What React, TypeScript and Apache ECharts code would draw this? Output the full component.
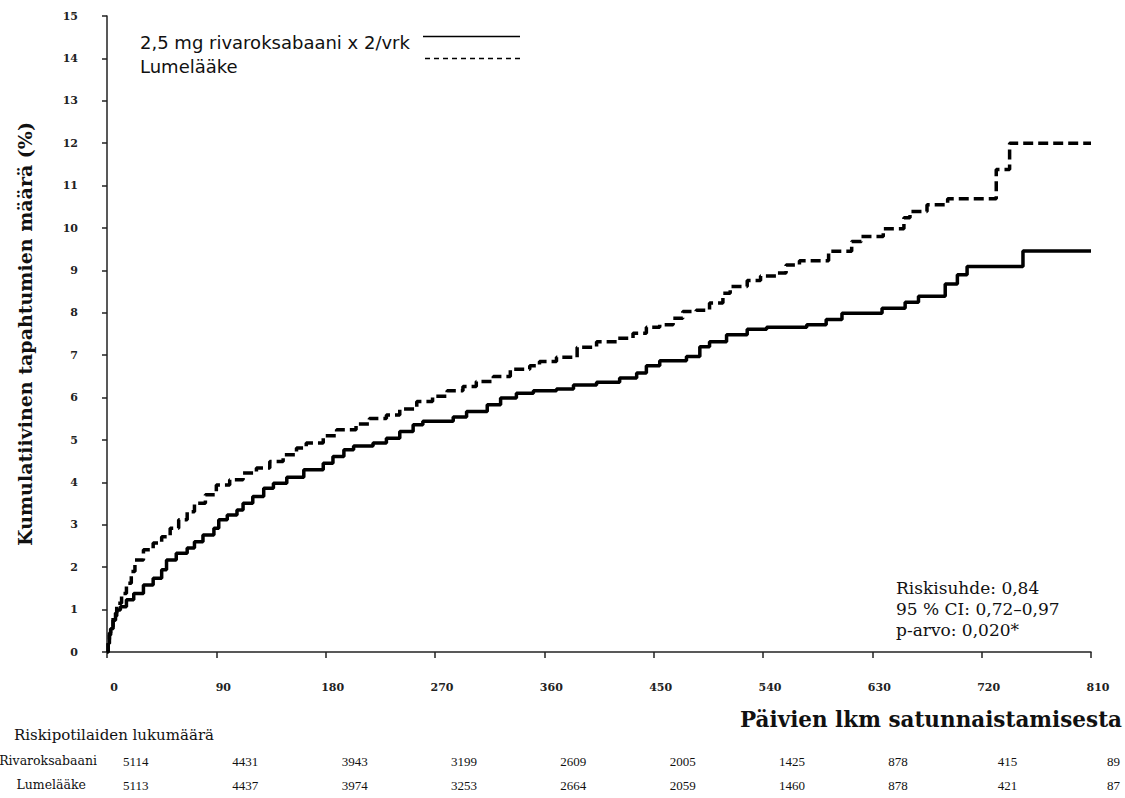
import React, { useEffect, useRef } from "react";
import * as echarts from "echarts";

const rivaroxabanDays = [0, 1, 2, 3, 5, 7, 8, 11, 16, 22, 30, 38, 45, 49, 57, 66, 72, 79, 88, 92, 99, 107, 112, 120, 129, 137, 148, 162, 178, 186, 195, 203, 219, 230, 241, 252, 260, 285, 296, 313, 324, 337, 351, 370, 384, 403, 422, 436, 444, 455, 477, 488, 496, 510, 527, 543, 576, 592, 605, 638, 657, 668, 690, 700, 708, 754, 810];
const rivaroxabanRisk = [0, 0.2, 0.4, 0.55, 0.75, 0.92, 0.99, 1.07, 1.23, 1.38, 1.58, 1.74, 1.94, 2.17, 2.33, 2.45, 2.6, 2.76, 2.92, 3.12, 3.23, 3.35, 3.51, 3.67, 3.86, 3.98, 4.12, 4.3, 4.45, 4.61, 4.77, 4.86, 4.93, 5.04, 5.2, 5.36, 5.44, 5.54, 5.67, 5.83, 5.99, 6.1, 6.16, 6.2, 6.3, 6.36, 6.46, 6.58, 6.75, 6.87, 6.97, 7.2, 7.32, 7.48, 7.61, 7.66, 7.72, 7.84, 7.99, 8.11, 8.25, 8.39, 8.68, 8.9, 9.09, 9.46, 9.46];

const placeboDays = [0, 1, 2, 3, 5, 8, 12, 16, 20, 23, 30, 38, 45, 52, 59, 66, 72, 81, 90, 101, 112, 123, 134, 145, 156, 164, 178, 189, 205, 216, 230, 241, 255, 268, 280, 293, 304, 318, 332, 348, 356, 370, 387, 403, 420, 433, 444, 455, 466, 474, 485, 496, 507, 513, 527, 538, 551, 559, 570, 594, 613, 621, 639, 656, 661, 675, 692, 732, 743, 810];
const placeboRisk = [0, 0.25, 0.45, 0.6, 0.85, 1.15, 1.38, 1.62, 1.9, 2.17, 2.41, 2.57, 2.72, 2.92, 3.12, 3.31, 3.51, 3.71, 3.94, 4.06, 4.22, 4.34, 4.49, 4.65, 4.81, 4.93, 5.1, 5.24, 5.38, 5.51, 5.59, 5.73, 5.91, 6.03, 6.16, 6.26, 6.38, 6.5, 6.67, 6.75, 6.85, 6.95, 7.19, 7.32, 7.4, 7.52, 7.66, 7.72, 7.87, 8.03, 8.06, 8.23, 8.46, 8.62, 8.76, 8.87, 8.94, 9.13, 9.23, 9.45, 9.68, 9.8, 9.98, 10.24, 10.39, 10.55, 10.69, 11.38, 12.0, 12.0];

const tickDays = [0, 90, 180, 270, 360, 450, 540, 630, 720, 810];
const atRiskRivaroxaban = [5114, 4431, 3943, 3199, 2609, 2005, 1425, 878, 415, 89];
const atRiskPlacebo = [5113, 4437, 3974, 3253, 2664, 2059, 1460, 878, 421, 87];

const seriesNames = ["2,5 mg rivaroksabaani x 2/vrk", "Lumelääke"];
const statsLines = ["Riskisuhde: 0,84", "95 % CI: 0,72–0,97", "p-arvo: 0,020*"];
const yAxisTitle = "Kumulatiivinen tapahtumien määrä (%)";
const xAxisTitle = "Päivien lkm satunnaistamisesta";
const atRiskTitle = "Riskipotilaiden lukumäärä";
const atRiskRowLabels = ["Rivaroksabaani", "Lumelääke"];

const SERIF = "'Liberation Serif', serif";
const WSERIF = "'DejaVu Serif', serif";
const SANS = "'DejaVu Sans', sans-serif";

function countAt(arr: number[], v: number) {
  const i = tickDays.indexOf(Math.round(v));
  return i >= 0 ? String(arr[i]) : "";
}

export default function App() {
  const ref = useRef<HTMLDivElement>(null);
  useEffect(() => {
    if (!ref.current) return;
    const chart = echarts.init(ref.current, null, { renderer: "svg" });
    const riskAxis = (arr: number[], offset: number) => ({
      type: "value",
      position: "bottom",
      min: 0,
      max: 810,
      interval: 90,
      offset,
      axisLine: { show: false },
      axisTick: { show: false },
      splitLine: { show: false },
      axisLabel: {
        margin: 8,
        align: "left",
        padding: [0, 0, 0, 16],
        fontFamily: SERIF,
        fontSize: 13,
        color: "#111",
        showMinLabel: true,
        showMaxLabel: true,
        formatter: (v: number) => countAt(arr, v),
      },
    });
    chart.setOption({
      animation: false,
      backgroundColor: "#fff",
      grid: { left: 107, right: 34, top: 16, bottom: 146, containLabel: false },
      xAxis: [
        {
          type: "value",
          min: 0,
          max: 810,
          interval: 90,
          axisLine: { show: true, lineStyle: { color: "#222", width: 1.5 } },
          axisTick: { show: true, length: 6, lineStyle: { color: "#222", width: 1.5 } },
          splitLine: { show: false },
          axisLabel: {
            margin: 30,
            padding: [0, 0, 0, 14],
            fontFamily: WSERIF,
            fontWeight: "bold",
            fontSize: 11,
            color: "#222",
            showMinLabel: true,
            showMaxLabel: true,
          },
        },
        riskAxis(atRiskRivaroxaban, 95),
        riskAxis(atRiskPlacebo, 119),
      ],
      yAxis: {
        type: "value",
        min: 0,
        max: 15,
        interval: 1,
        name: yAxisTitle,
        nameLocation: "middle",
        nameGap: 73,
        nameTextStyle: { fontFamily: WSERIF, fontWeight: "bold", fontSize: 19, color: "#111" },
        axisLine: { show: true, lineStyle: { color: "#222", width: 1.5 } },
        axisTick: { show: true, length: 5, lineStyle: { color: "#222", width: 1.5 } },
        splitLine: { show: false },
        axisLabel: {
          margin: 29,
          fontFamily: WSERIF,
          fontWeight: "bold",
          fontSize: 11,
          color: "#222",
        },
      },
      series: [
        {
          name: seriesNames[0],
          type: "line",
          step: "end",
          showSymbol: false,
          symbol: "none",
          data: rivaroxabanDays.map((d, i) => [d, rivaroxabanRisk[i]]),
          lineStyle: { color: "#000", width: 3.5, type: "solid" },
        },
        {
          name: seriesNames[1],
          type: "line",
          step: "end",
          showSymbol: false,
          symbol: "none",
          data: placeboDays.map((d, i) => [d, placeboRisk[i]]),
          lineStyle: { color: "#000", width: 3.5, type: [10, 5] },
        },
      ],
      graphic: [
        {
          type: "text",
          x: 140,
          y: 42,
          style: { text: seriesNames[0], font: `18px ${SANS}`, fill: "#111", verticalAlign: "middle" },
        },
        {
          type: "text",
          x: 140,
          y: 66,
          style: { text: seriesNames[1], font: `18px ${SANS}`, fill: "#111", verticalAlign: "middle" },
        },
        {
          type: "line",
          shape: { x1: 423, y1: 36.5, x2: 520, y2: 36.5 },
          style: { stroke: "#000", lineWidth: 1.5 },
        },
        {
          type: "line",
          shape: { x1: 425, y1: 58.5, x2: 520, y2: 58.5 },
          style: { stroke: "#000", lineWidth: 1.5, lineDash: [5, 4] },
        },
        ...statsLines.map((t, i) => ({
          type: "text",
          x: 896,
          y: 588 + i * 21,
          style: { text: t, font: `17px ${WSERIF}`, fill: "#111", verticalAlign: "middle" },
        })),
        {
          type: "text",
          x: 1122,
          y: 719,
          style: { text: xAxisTitle, font: `bold 21.5px ${WSERIF}`, fill: "#111", align: "right", verticalAlign: "middle" },
        },
        {
          type: "text",
          x: 214,
          y: 735,
          style: { text: atRiskTitle, font: `15px ${WSERIF}`, fill: "#111", align: "right", verticalAlign: "middle" },
        },
        {
          type: "text",
          x: 97,
          y: 760,
          style: { text: atRiskRowLabels[0], font: `12.5px ${WSERIF}`, fill: "#111", align: "right", verticalAlign: "middle" },
        },
        {
          type: "text",
          x: 86,
          y: 784,
          style: { text: atRiskRowLabels[1], font: `12.5px ${WSERIF}`, fill: "#111", align: "right", verticalAlign: "middle" },
        },
      ],
    });
    return () => chart.dispose();
  }, []);
  return (
    <div
      ref={ref}
      style={{ position: "fixed", left: 0, top: 0, width: 1125, height: 798, background: "#fff" }}
    />
  );
}
